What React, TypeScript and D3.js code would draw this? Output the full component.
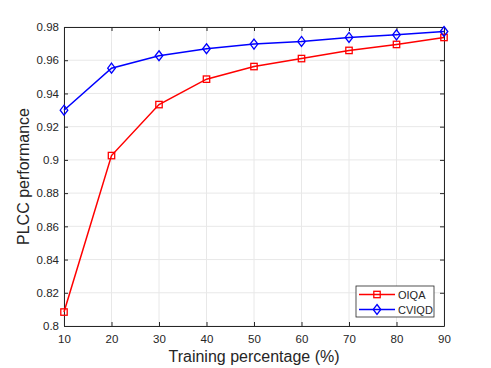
import React, {useEffect, useRef} from 'react'
import * as d3 from 'd3'

const width = 491
const height = 368
const margin = {top: 27, right: 47, bottom: 42, left: 64}
const innerWidth = width - margin.left - margin.right
const innerHeight = height - margin.top - margin.bottom

const trainPct = [10, 20, 30, 40, 50, 60, 70, 80, 90]
const oiqa = [0.8084, 0.9026, 0.9333, 0.9486, 0.9562, 0.961, 0.9659, 0.9695, 0.9737]
const cviqd = [0.9299, 0.9552, 0.9627, 0.9669, 0.9697, 0.9713, 0.9737, 0.9753, 0.9773]
const yTicks = [0.8, 0.82, 0.84, 0.86, 0.88, 0.9, 0.92, 0.94, 0.96, 0.98]
const seriesNames = ['OIQA', 'CVIQD']

const axisColor = '#262626'
const font = 'Liberation Sans, Arial, sans-serif'

const App = () => {
  const chartRef = useRef<SVGSVGElement>(null)

  useEffect(() => {
    const svg = d3.select(chartRef.current)
    svg.selectAll('*').remove()

    const x = d3.scaleLinear().domain([10, 90]).range([0, innerWidth])
    const y = d3.scaleLinear().domain([0.8, 0.98]).range([innerHeight, 0])

    const g = svg
      .append('g')
      .attr('transform', `translate(${margin.left},${margin.top})`)

    // grid
    g.selectAll('.gx')
      .data(trainPct)
      .enter()
      .append('line')
      .attr('x1', d => x(d))
      .attr('x2', d => x(d))
      .attr('y1', 0)
      .attr('y2', innerHeight)
      .attr('stroke', '#e8e8e8')
    g.selectAll('.gy')
      .data(yTicks)
      .enter()
      .append('line')
      .attr('x1', 0)
      .attr('x2', innerWidth)
      .attr('y1', d => y(d))
      .attr('y2', d => y(d))
      .attr('stroke', '#e8e8e8')

    // axes (ticks inward, box)
    const styleAxis = sel => {
      sel.select('.domain').attr('stroke', axisColor)
      sel.selectAll('line').attr('stroke', axisColor)
      sel.selectAll('text')
        .attr('fill', axisColor)
        .style('font-family', font)
        .style('font-size', '11.5px')
    }
    g.append('g')
      .attr('transform', `translate(0,${innerHeight})`)
      .call(d3.axisBottom(x).tickValues(trainPct).tickSize(-4).tickSizeOuter(0).tickPadding(9))
      .call(styleAxis)
    g.append('g')
      .call(d3.axisLeft(y).tickValues(yTicks).tickFormat(d3.format('')).tickSize(-4).tickSizeOuter(0).tickPadding(5))
      .call(styleAxis)
    g.append('g')
      .call(d3.axisTop(x).tickValues(trainPct).tickSize(-4).tickSizeOuter(0).tickFormat(() => ''))
      .call(styleAxis)
    g.append('g')
      .attr('transform', `translate(${innerWidth},0)`)
      .call(d3.axisRight(y).tickValues(yTicks).tickSize(-4).tickSizeOuter(0).tickFormat(() => ''))
      .call(styleAxis)

    const line = d3
      .line<number>()
      .x((d, i) => x(trainPct[i]))
      .y(d => y(d))

    const drawMarker = (parent, cx, cy, color, marker) => {
      if (marker === 'square') {
        parent.append('rect')
          .attr('x', cx - 3.2)
          .attr('y', cy - 3.2)
          .attr('width', 6.4)
          .attr('height', 6.4)
          .attr('fill', 'none')
          .attr('stroke', color)
          .attr('stroke-width', 1.3)
      } else {
        parent.append('path')
          .attr('d', `M${cx},${cy - 5}L${cx + 3.8},${cy}L${cx},${cy + 5}L${cx - 3.8},${cy}Z`)
          .attr('fill', 'none')
          .attr('stroke', color)
          .attr('stroke-width', 1.3)
      }
    }

    const drawSeries = (values, color, marker) => {
      g.append('path')
        .datum(values)
        .attr('d', line)
        .attr('fill', 'none')
        .attr('stroke', color)
        .attr('stroke-width', 1.5)
      values.forEach((v, i) => drawMarker(g, x(trainPct[i]), y(v), color, marker))
    }

    drawSeries(oiqa, '#ff0000', 'square')
    drawSeries(cviqd, '#0000ff', 'diamond')

    // labels
    svg.append('text')
      .attr('x', margin.left + innerWidth / 2)
      .attr('y', 362)
      .attr('text-anchor', 'middle')
      .attr('fill', axisColor)
      .style('font-family', font)
      .style('font-size', '16px')
      .text('Training percentage (%)')
    svg.append('text')
      .attr('transform', `translate(28.5,${margin.top + innerHeight / 2}) rotate(-90)`)
      .attr('text-anchor', 'middle')
      .attr('fill', axisColor)
      .style('font-family', font)
      .style('font-size', '16px')
      .text('PLCC performance')

    // legend
    const lg = svg.append('g').attr('transform', 'translate(356,286)')
    lg.append('rect')
      .attr('width', 78)
      .attr('height', 31)
      .attr('fill', 'white')
      .attr('stroke', axisColor)
      .attr('stroke-width', 0.8)
    const colors = ['#ff0000', '#0000ff']
    const markers = ['square', 'diamond']
    seriesNames.forEach((name, i) => {
      const ry = 8.5 + i * 15
      lg.append('line')
        .attr('x1', 3)
        .attr('x2', 39)
        .attr('y1', ry)
        .attr('y2', ry)
        .attr('stroke', colors[i])
        .attr('stroke-width', 1.5)
      drawMarker(lg, 21, ry, colors[i], markers[i])
      lg.append('text')
        .attr('x', 42)
        .attr('y', ry + 4)
        .attr('fill', axisColor)
        .style('font-family', font)
        .style('font-size', '11px')
        .text(name)
    })
  }, [])

  return (
    <div style={{position: 'absolute', left: 0, top: 0}}>
      <svg ref={chartRef} width={width} height={height} style={{display: 'block', background: 'white'}}></svg>
    </div>
  )
}

export default App
